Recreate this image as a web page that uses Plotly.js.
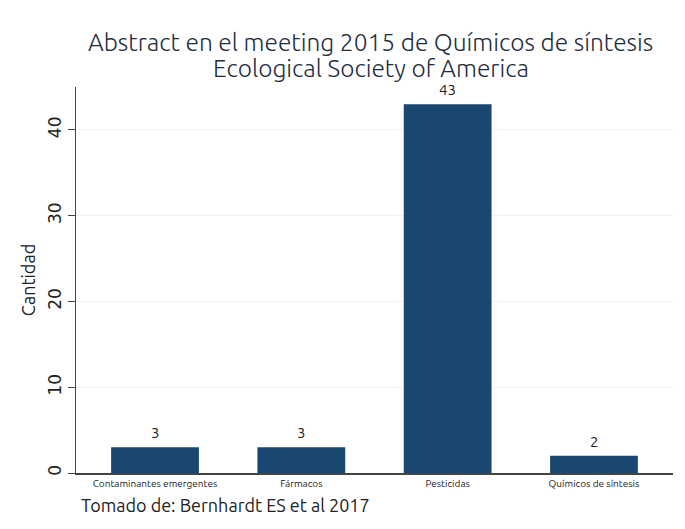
<!DOCTYPE html>
<html><head><meta charset="utf-8">
<script src="https://cdn.plot.ly/plotly-3.0.1.min.js"></script>
<style>body{margin:0;background:#fff}#c{width:685px;height:529px}</style>
</head><body><div id="c"></div>
<script>
const categories = ["Contaminantes emergentes", "Fármacos", "Pesticidas", "Químicos de síntesis"];
const counts = [3, 3, 43, 2];
const yTicks = [0, 10, 20, 30, 40];
const titleLines = ["Abstract en el meeting 2015 de Químicos de síntesis", "Ecological Society of America"];

const font = "Ubuntu, 'Open Sans', 'Noto Sans', sans-serif";
const xs = categories.map((c, i) => i);
const annotations = counts.map((v, i) => ({
  x: xs[i], y: v, xref: 'x', yref: 'y', text: String(v), showarrow: false,
  yanchor: 'bottom', yshift: 4, font: {size: 15, color: '#222', family: font}
}));
titleLines.forEach((t, i) => annotations.push({
  text: t, xref: 'paper', yref: 'paper', x: 0.494, xanchor: 'center',
  y: 1 + (87 - (42 + 26 * i)) / 386, yanchor: 'middle', showarrow: false,
  font: {size: 24.5, color: '#1e2d3e', family: "'Ubuntu Light', Ubuntu, 'Open Sans', sans-serif", weight: 300}
}));
annotations.push({text: 'Tomado de: Bernhardt ES et al 2017', xref: 'paper', yref: 'paper', x: 0.005,
  y: -(505 - 473) / 386, xanchor: 'left', yanchor: 'middle', showarrow: false,
  font: {size: 18, color: '#222', family: font}});

Plotly.newPlot('c', [{
  type: 'bar',
  x: xs,
  y: counts,
  width: 0.6,
  marker: {color: '#1a476f'},
  hoverinfo: 'none'
}], {
  width: 685, height: 529,
  margin: {l: 76, r: 12, t: 87, b: 56},
  paper_bgcolor: '#fff', plot_bgcolor: '#fff',
  font: {family: font, color: '#222'},
  xaxis: {
    tickvals: xs, ticktext: categories, range: [-0.54, 3.54],
    showline: true, linecolor: '#444', linewidth: 1.5, ticks: '', showgrid: false,
    tickfont: {size: 10, color: '#222'}, zeroline: false
  },
  yaxis: {
    range: [0, 45], tickvals: yTicks, tickangle: -90,
    showline: true, linecolor: '#444', linewidth: 1.5, ticks: 'outside', ticklen: 7, tickcolor: '#444',
    tickfont: {size: 17, color: '#222', family: "'DejaVu Sans', sans-serif"}, showgrid: true, gridcolor: '#eaf2f3', zeroline: false,
    title: {text: 'Cantidad', font: {size: 18, color: '#222'}, standoff: 4}
  },
  annotations: annotations,
  showlegend: false
}, {staticPlot: true});
</script></body></html>
